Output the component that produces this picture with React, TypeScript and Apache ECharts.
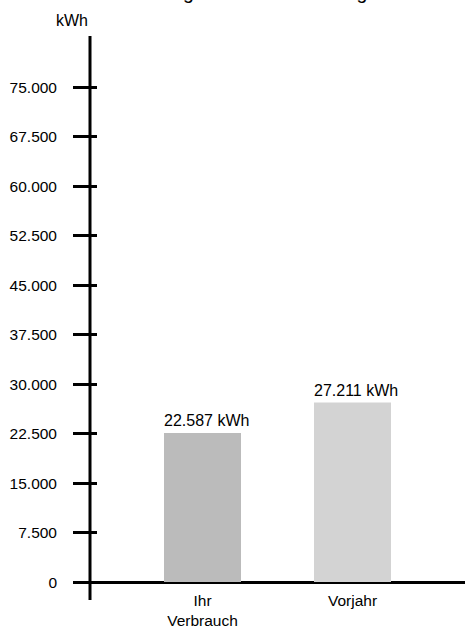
import React, { useEffect, useRef } from 'react';
import * as echarts from 'echarts';

const categories = ['', 'Ihr\nVerbrauch', '', 'Vorjahr', ''];
const values: (number | null)[] = [null, 22587, null, 27211, null];
const barColors = ['#bbbbbb', '#bbbbbb', '#d3d3d3', '#d3d3d3', '#d3d3d3'];
const yMin = 0;
const yMax = 75000;
const yInterval = 7500;
const unit = 'kWh';
const titleText = 'Ihr Energieverbrauch im Vergleich';

const FONT = '"Liberation Sans", Arial, Helvetica, sans-serif';

function fmt(v: number): string {
  return String(Math.round(v)).replace(/\B(?=(\d{3})+(?!\d))/g, '.');
}

export default function App() {
  const ref = useRef<HTMLDivElement>(null);
  useEffect(() => {
    document.body.style.margin = '0';
    const chart = echarts.init(ref.current!, null, { renderer: 'svg' });
    const gridLeft = 90;
    const gridTop = 87;
    const gridBottom = 44;
    const option: any = {
      animation: false,
      textStyle: { fontFamily: FONT },
      grid: { left: gridLeft, right: 0, top: gridTop, bottom: gridBottom, containLabel: false },
      graphic: [
        {
          type: 'text',
          x: 113.6,
          y: -8,
          style: { text: titleText, fontSize: 19.5, fontFamily: FONT, fill: '#000', align: 'left', verticalAlign: 'middle' },
        },
        {
          type: 'text',
          x: 72,
          y: 20,
          style: { text: unit, fontSize: 16, fontFamily: FONT, fill: '#000', align: 'center', verticalAlign: 'middle' },
        },
        {
          type: 'line',
          shape: { x1: gridLeft, y1: 36, x2: gridLeft, y2: 600 },
          style: { stroke: '#000', lineWidth: 3 },
          z: 10,
        },
      ],
      xAxis: {
        type: 'category',
        data: categories,
        axisLine: { show: true, lineStyle: { color: '#000', width: 3 } },
        axisTick: { show: false },
        axisLabel: { color: '#000', fontSize: 15.5, lineHeight: 20, margin: 8, fontFamily: FONT, interval: 0 },
        splitLine: { show: false },
      },
      yAxis: [
        {
          type: 'value',
          min: yMin,
          max: yMax,
          interval: yInterval,
          axisLine: { show: false },
          axisTick: { show: true, length: 17, lineStyle: { color: '#000', width: 3 } },
          axisLabel: { color: '#000', fontSize: 15.5, margin: 33, fontFamily: FONT, formatter: (v: number) => fmt(v) },
          splitLine: { show: false },
        },
        {
          type: 'value',
          min: yMin,
          max: yMax,
          interval: yInterval,
          axisLine: { show: false },
          axisTick: { show: true, inside: true, length: 7, lineStyle: { color: '#000', width: 3 } },
          axisLabel: { show: false },
          splitLine: { show: false },
          position: 'left',
        },
      ],
      series: [
        {
          type: 'bar',
          yAxisIndex: 0,
          barWidth: 77,
          data: values.map((v, i) => (v == null ? '-' : { value: v, itemStyle: { color: barColors[i] } })),
          label: {
            show: true,
            position: [0, -4],
            align: 'left',
            verticalAlign: 'bottom',
            color: '#000',
            fontSize: 16,
            fontFamily: FONT,
            formatter: (p: any) => fmt(p.value) + ' ' + unit,
          },
        },
      ],
    };
    chart.setOption(option);
    return () => chart.dispose();
  }, []);
  return <div ref={ref} style={{ width: 465, height: 630 }} />;
}
